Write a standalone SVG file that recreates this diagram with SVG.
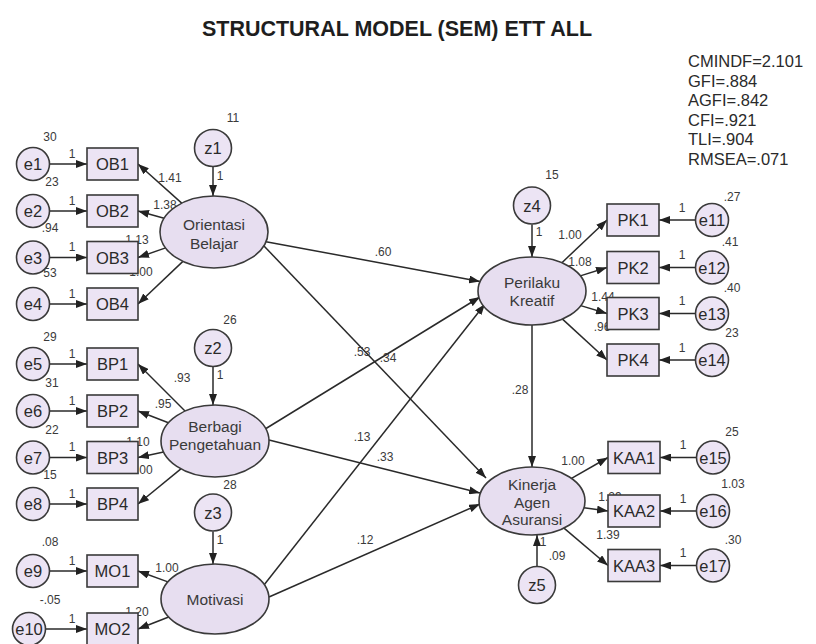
<svg xmlns="http://www.w3.org/2000/svg" width="816" height="644" viewBox="0 0 816 644">
<defs>
<marker id="ah" markerUnits="userSpaceOnUse" markerWidth="11" markerHeight="8" refX="11" refY="4" orient="auto"><path d="M0,0 L11,4 L0,8 z" fill="#222"/></marker>
<style>
.ln{stroke:#2a2a2a;stroke-width:1.5;fill:none;marker-end:url(#ah)}
.lat{fill:#e7def0;stroke:#3a3a3a;stroke-width:1.6}
.box{fill:#ece4f4;stroke:#3a3a3a;stroke-width:1.6}
.err{fill:#ece4f4;stroke:#3a3a3a;stroke-width:1.6}
.t{font-family:"Liberation Sans",Arial,sans-serif;fill:#2a2a2a;text-anchor:middle}
.nt{font-size:16.5px}
.lt{font-size:15.5px;fill:#3a3a3a}
.lb{font-family:"Liberation Sans",Arial,sans-serif;font-size:12px;fill:#3a3a3a;text-anchor:middle}
.fit{font-family:"Liberation Sans",Arial,sans-serif;font-size:16.5px;fill:#2a2a2a}
</style>
</defs>
<rect width="816" height="644" fill="#ffffff"/>
<text x="397" y="36" font-family="'Liberation Sans',Arial,sans-serif" font-size="21.5" font-weight="bold" fill="#1e1e1e" text-anchor="middle">STRUCTURAL MODEL (SEM) ETT ALL</text>
<g id="fit">
<text class="fit" x="688" y="67">CMINDF=2.101</text>
<text class="fit" x="688" y="86.5">GFI=.884</text>
<text class="fit" x="688" y="106">AGFI=.842</text>
<text class="fit" x="688" y="125.5">CFI=.921</text>
<text class="fit" x="688" y="145">TLI=.904</text>
<text class="fit" x="688" y="164.5">RMSEA=.071</text>
</g>
<g id="connectors">
<line class="ln" x1="49.5" y1="164" x2="87" y2="164"/>
<line class="ln" x1="49.5" y1="211" x2="87" y2="211"/>
<line class="ln" x1="49.5" y1="257.5" x2="87" y2="257.5"/>
<line class="ln" x1="49.5" y1="304" x2="87" y2="304"/>
<line class="ln" x1="49.5" y1="364" x2="87" y2="364"/>
<line class="ln" x1="49.5" y1="411" x2="87" y2="411"/>
<line class="ln" x1="49.5" y1="457.5" x2="87" y2="457.5"/>
<line class="ln" x1="49.5" y1="504" x2="87" y2="504"/>
<line class="ln" x1="49.5" y1="571" x2="87" y2="571"/>
<line class="ln" x1="45.5" y1="629" x2="87" y2="629"/>
<line class="ln" x1="181.7" y1="203.1" x2="138" y2="164"/>
<line class="ln" x1="164.1" y1="218.2" x2="138" y2="211"/>
<line class="ln" x1="165.6" y1="247.9" x2="138" y2="257.5"/>
<line class="ln" x1="182.9" y1="261.4" x2="138" y2="304"/>
<line class="ln" x1="185" y1="411" x2="138" y2="364"/>
<line class="ln" x1="168.4" y1="422.8" x2="138" y2="411"/>
<line class="ln" x1="163.6" y1="452" x2="138" y2="457.5"/>
<line class="ln" x1="180.9" y1="468.9" x2="138" y2="504"/>
<line class="ln" x1="167.9" y1="581.9" x2="138" y2="571"/>
<line class="ln" x1="168.7" y1="617" x2="138" y2="629"/>
<line class="ln" x1="213" y1="167" x2="213" y2="196"/>
<line class="ln" x1="213" y1="367" x2="213" y2="405"/>
<line class="ln" x1="213" y1="531.5" x2="213" y2="564"/>
<line class="ln" x1="532" y1="224.5" x2="532" y2="257"/>
<line class="ln" x1="537" y1="566" x2="537" y2="535"/>
<line class="ln" x1="266" y1="241.7" x2="480" y2="281.4"/>
<line class="ln" x1="264" y1="246" x2="486" y2="478"/>
<line class="ln" x1="266" y1="428.5" x2="480" y2="297"/>
<line class="ln" x1="269" y1="440" x2="480" y2="493"/>
<line class="ln" x1="264" y1="585" x2="485" y2="304"/>
<line class="ln" x1="269" y1="597" x2="480" y2="504"/>
<line class="ln" x1="532" y1="325" x2="532" y2="467"/>
<line class="ln" x1="561.9" y1="262.7" x2="607" y2="220"/>
<line class="ln" x1="580.3" y1="275.9" x2="607" y2="267.5"/>
<line class="ln" x1="580.7" y1="305.6" x2="607" y2="313.5"/>
<line class="ln" x1="562.5" y1="319.1" x2="607" y2="360"/>
<line class="ln" x1="571.5" y1="478.4" x2="608" y2="457.5"/>
<line class="ln" x1="583.9" y1="507.8" x2="608" y2="511"/>
<line class="ln" x1="564" y1="528.1" x2="608" y2="565.5"/>
<line class="ln" x1="695.5" y1="220" x2="659" y2="220"/>
<line class="ln" x1="695.5" y1="267.5" x2="659" y2="267.5"/>
<line class="ln" x1="695.5" y1="313.5" x2="659" y2="313.5"/>
<line class="ln" x1="695.5" y1="360" x2="659" y2="360"/>
<line class="ln" x1="696.5" y1="457.5" x2="660" y2="457.5"/>
<line class="ln" x1="696.5" y1="511" x2="660" y2="511"/>
<line class="ln" x1="696.5" y1="565.5" x2="660" y2="565.5"/>
</g>
<g id="labels">
<text class="lb" x="72" y="158">1</text>
<text class="lb" x="72" y="205">1</text>
<text class="lb" x="72" y="251">1</text>
<text class="lb" x="72" y="298">1</text>
<text class="lb" x="72" y="358">1</text>
<text class="lb" x="72" y="405">1</text>
<text class="lb" x="72" y="451">1</text>
<text class="lb" x="72" y="498">1</text>
<text class="lb" x="72" y="565">1</text>
<text class="lb" x="72" y="623">1</text>
<text class="lb" x="170" y="182">1.41</text>
<text class="lb" x="165" y="209">1.38</text>
<text class="lb" x="137" y="244">1.13</text>
<text class="lb" x="141" y="276">1.00</text>
<text class="lb" x="182" y="382">.93</text>
<text class="lb" x="163" y="408">.95</text>
<text class="lb" x="138" y="446">1.10</text>
<text class="lb" x="141" y="474">1.00</text>
<text class="lb" x="167" y="572">1.00</text>
<text class="lb" x="137" y="616">1.20</text>
<text class="lb" x="220" y="180">1</text>
<text class="lb" x="220" y="379">1</text>
<text class="lb" x="220" y="544">1</text>
<text class="lb" x="539" y="236">1</text>
<text class="lb" x="543" y="546">1</text>
<text class="lb" x="383" y="256">.60</text>
<text class="lb" x="362" y="356">.53</text>
<text class="lb" x="388" y="362">.34</text>
<text class="lb" x="362" y="441">.13</text>
<text class="lb" x="385" y="461">.33</text>
<text class="lb" x="365" y="544">.12</text>
<text class="lb" x="520" y="394">.28</text>
<text class="lb" x="570" y="239">1.00</text>
<text class="lb" x="580" y="266">1.08</text>
<text class="lb" x="603" y="301">1.44</text>
<text class="lb" x="602" y="331">.96</text>
<text class="lb" x="573" y="465">1.00</text>
<text class="lb" x="610" y="501">1.29</text>
<text class="lb" x="608" y="539">1.39</text>
<text class="lb" x="682" y="212">1</text>
<text class="lb" x="682" y="259">1</text>
<text class="lb" x="682" y="305">1</text>
<text class="lb" x="682" y="352">1</text>
<text class="lb" x="683" y="449">1</text>
<text class="lb" x="683" y="503">1</text>
<text class="lb" x="683" y="557">1</text>
<text class="lb" x="50" y="141">30</text>
<text class="lb" x="52" y="186">23</text>
<text class="lb" x="50" y="232">.94</text>
<text class="lb" x="50" y="277">53</text>
<text class="lb" x="50" y="341">29</text>
<text class="lb" x="52" y="387">31</text>
<text class="lb" x="52" y="434">22</text>
<text class="lb" x="50" y="479">15</text>
<text class="lb" x="50" y="546">.08</text>
<text class="lb" x="50" y="604">-.05</text>
<text class="lb" x="233" y="122">11</text>
<text class="lb" x="230" y="324">26</text>
<text class="lb" x="230" y="489">28</text>
<text class="lb" x="552" y="179">15</text>
<text class="lb" x="557" y="560">.09</text>
<text class="lb" x="732" y="201">.27</text>
<text class="lb" x="730" y="246">.41</text>
<text class="lb" x="732" y="292">.40</text>
<text class="lb" x="732" y="337">23</text>
<text class="lb" x="732" y="436">25</text>
<text class="lb" x="733" y="488">1.03</text>
<text class="lb" x="733" y="544">.30</text>
</g>
<g id="e1"><circle class="err" cx="33" cy="164" r="16.5"/><text class="t nt" x="33" y="170">e1</text></g>
<g id="e2"><circle class="err" cx="33" cy="211" r="16.5"/><text class="t nt" x="33" y="217">e2</text></g>
<g id="e3"><circle class="err" cx="33" cy="257.5" r="16.5"/><text class="t nt" x="33" y="263.5">e3</text></g>
<g id="e4"><circle class="err" cx="33" cy="304" r="16.5"/><text class="t nt" x="33" y="310">e4</text></g>
<g id="e5"><circle class="err" cx="33" cy="364" r="16.5"/><text class="t nt" x="33" y="370">e5</text></g>
<g id="e6"><circle class="err" cx="33" cy="411" r="16.5"/><text class="t nt" x="33" y="417">e6</text></g>
<g id="e7"><circle class="err" cx="33" cy="457.5" r="16.5"/><text class="t nt" x="33" y="463.5">e7</text></g>
<g id="e8"><circle class="err" cx="33" cy="504" r="16.5"/><text class="t nt" x="33" y="510">e8</text></g>
<g id="e9"><circle class="err" cx="33" cy="571" r="16.5"/><text class="t nt" x="33" y="577">e9</text></g>
<g id="e10"><circle class="err" cx="29" cy="629" r="16.5"/><text class="t nt" x="29" y="635">e10</text></g>
<g id="OB1"><rect class="box" x="87" y="148" width="51" height="32"/><text class="t nt" x="112.5" y="170">OB1</text></g>
<g id="OB2"><rect class="box" x="87" y="195" width="51" height="32"/><text class="t nt" x="112.5" y="217">OB2</text></g>
<g id="OB3"><rect class="box" x="87" y="241.5" width="51" height="32"/><text class="t nt" x="112.5" y="263.5">OB3</text></g>
<g id="OB4"><rect class="box" x="87" y="288" width="51" height="32"/><text class="t nt" x="112.5" y="310">OB4</text></g>
<g id="BP1"><rect class="box" x="87" y="348" width="51" height="32"/><text class="t nt" x="112.5" y="370">BP1</text></g>
<g id="BP2"><rect class="box" x="87" y="395" width="51" height="32"/><text class="t nt" x="112.5" y="417">BP2</text></g>
<g id="BP3"><rect class="box" x="87" y="441.5" width="51" height="32"/><text class="t nt" x="112.5" y="463.5">BP3</text></g>
<g id="BP4"><rect class="box" x="87" y="488" width="51" height="32"/><text class="t nt" x="112.5" y="510">BP4</text></g>
<g id="MO1"><rect class="box" x="87" y="555" width="51" height="32"/><text class="t nt" x="112.5" y="577">MO1</text></g>
<g id="MO2"><rect class="box" x="87" y="613" width="51" height="32"/><text class="t nt" x="112.5" y="635">MO2</text></g>
<g id="z1"><circle class="err" cx="213" cy="148" r="18.5"/><text class="t nt" x="213" y="154">z1</text></g>
<g id="z2"><circle class="err" cx="213" cy="348" r="18.5"/><text class="t nt" x="213" y="354">z2</text></g>
<g id="z3"><circle class="err" cx="213" cy="512.5" r="18.5"/><text class="t nt" x="213" y="518.5">z3</text></g>
<g id="z4"><circle class="err" cx="532" cy="205.5" r="18.5"/><text class="t nt" x="532" y="211.5">z4</text></g>
<g id="z5"><circle class="err" cx="537" cy="585" r="18.5"/><text class="t nt" x="537" y="591">z5</text></g>
<g id="OrientasiBelajar"><ellipse class="lat" cx="214" cy="232" rx="54" ry="36"/><text class="t lt" x="214" y="230">Orientasi</text><text class="t lt" x="214" y="249">Belajar</text></g>
<g id="BerbagiPengetahuan"><ellipse class="lat" cx="215" cy="441" rx="54" ry="36"/><text class="t lt" x="215" y="432">Berbagi</text><text class="t lt" x="215" y="450">Pengetahuan</text></g>
<g id="Motivasi"><ellipse class="lat" cx="215" cy="599" rx="54" ry="35"/><text class="t lt" x="215" y="605">Motivasi</text></g>
<g id="PerilakuKreatif"><ellipse class="lat" cx="532" cy="291" rx="54" ry="34"/><text class="t lt" x="532" y="288">Perilaku</text><text class="t lt" x="532" y="306">Kreatif</text></g>
<g id="KinerjaAgenAsuransi"><ellipse class="lat" cx="532" cy="501" rx="53" ry="34"/><text class="t lt" x="532" y="490">Kinerja</text><text class="t lt" x="532" y="508">Agen</text><text class="t lt" x="532" y="525">Asuransi</text></g>
<g id="PK1"><rect class="box" x="607" y="204" width="52" height="32"/><text class="t nt" x="633" y="226">PK1</text></g>
<g id="PK2"><rect class="box" x="607" y="251.5" width="52" height="32"/><text class="t nt" x="633" y="273.5">PK2</text></g>
<g id="PK3"><rect class="box" x="607" y="297.5" width="52" height="32"/><text class="t nt" x="633" y="319.5">PK3</text></g>
<g id="PK4"><rect class="box" x="607" y="344" width="52" height="32"/><text class="t nt" x="633" y="366">PK4</text></g>
<g id="KAA1"><rect class="box" x="608" y="441.5" width="52" height="32"/><text class="t nt" x="634" y="463.5">KAA1</text></g>
<g id="KAA2"><rect class="box" x="608" y="495" width="52" height="32"/><text class="t nt" x="634" y="517">KAA2</text></g>
<g id="KAA3"><rect class="box" x="608" y="549.5" width="52" height="32"/><text class="t nt" x="634" y="571.5">KAA3</text></g>
<g id="e11"><circle class="err" cx="712" cy="220" r="16.5"/><text class="t nt" x="712" y="226">e11</text></g>
<g id="e12"><circle class="err" cx="712" cy="267.5" r="16.5"/><text class="t nt" x="712" y="273.5">e12</text></g>
<g id="e13"><circle class="err" cx="712" cy="313.5" r="16.5"/><text class="t nt" x="712" y="319.5">e13</text></g>
<g id="e14"><circle class="err" cx="712" cy="360" r="16.5"/><text class="t nt" x="712" y="366">e14</text></g>
<g id="e15"><circle class="err" cx="713" cy="457.5" r="16.5"/><text class="t nt" x="713" y="463.5">e15</text></g>
<g id="e16"><circle class="err" cx="713" cy="511" r="16.5"/><text class="t nt" x="713" y="517">e16</text></g>
<g id="e17"><circle class="err" cx="713" cy="565.5" r="16.5"/><text class="t nt" x="713" y="571.5">e17</text></g>
</svg>
